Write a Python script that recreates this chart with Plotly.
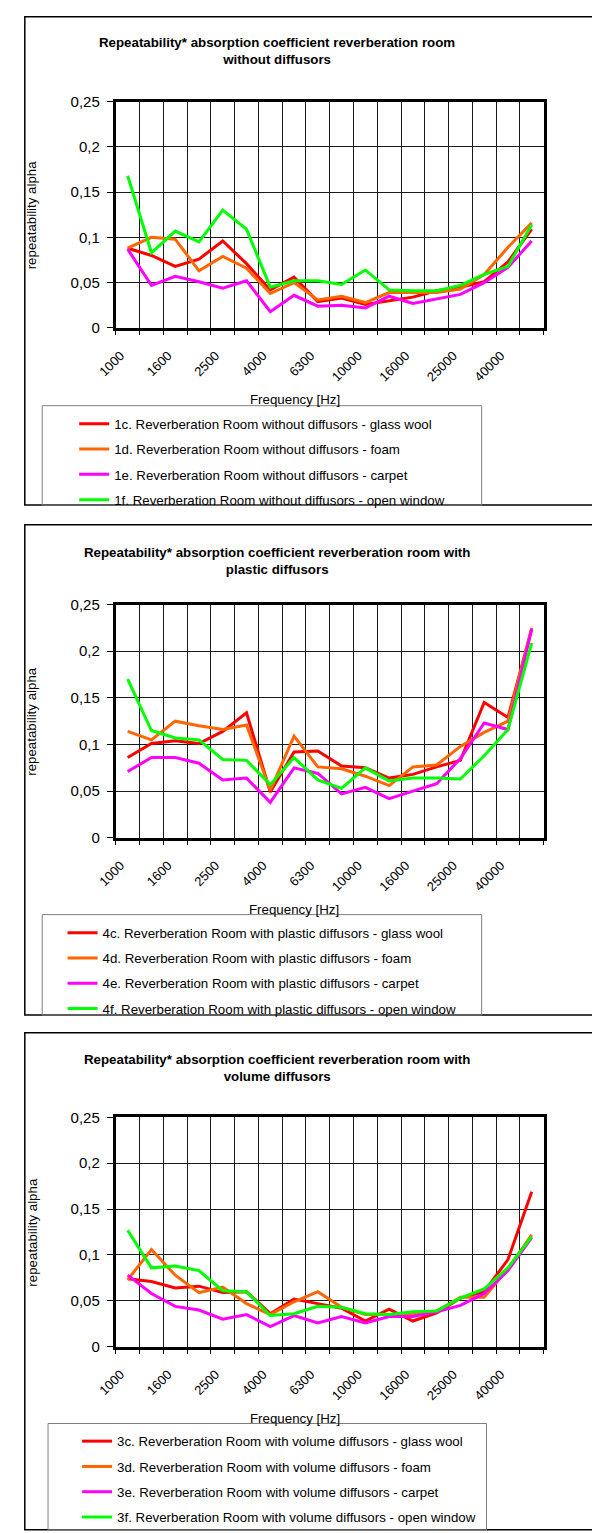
import plotly.graph_objects as go

# ---------------- data ----------------
FREQ = ["1000", "1250", "1600", "2000", "2500", "3150", "4000", "5000", "6300",
        "8000", "10000", "12500", "16000", "20000", "25000", "31500", "40000", "50000"]
LABELED = ["1000", "1600", "2500", "4000", "6300", "10000", "16000", "25000", "40000"]
Y_TICKS = [0, 0.05, 0.1, 0.15, 0.2, 0.25]
Y_TICKTEXT = ["0", "0,05", "0,1", "0,15", "0,2", "0,25"]

TITLES = [
    "Repeatability* absorption coefficient reverberation room|without diffusors",
    "Repeatability* absorption coefficient reverberation room with|plastic diffusors",
    "Repeatability* absorption coefficient reverberation room with|volume diffusors",
]

# Panel 1: without diffusors
P1_NAMES = ["1c. Reverberation Room without diffusors - glass wool",
            "1d. Reverberation Room without diffusors - foam",
            "1e. Reverberation Room without diffusors - carpet",
            "1f. Reverberation Room without diffusors - open window"]
P1_GLASS = [0.088, 0.080, 0.068, 0.076, 0.096, 0.071, 0.042, 0.056, 0.029, 0.033,
            0.026, 0.030, 0.034, 0.041, 0.045, 0.051, 0.073, 0.109]
P1_FOAM = [0.088, 0.100, 0.098, 0.063, 0.079, 0.066, 0.038, 0.050, 0.031, 0.035,
           0.028, 0.039, 0.039, 0.039, 0.043, 0.059, 0.089, 0.116]
P1_CARPET = [0.087, 0.047, 0.057, 0.051, 0.044, 0.052, 0.018, 0.036, 0.024, 0.025,
             0.022, 0.035, 0.027, 0.032, 0.037, 0.050, 0.067, 0.096]
P1_WINDOW = [0.168, 0.083, 0.107, 0.095, 0.130, 0.109, 0.045, 0.052, 0.052, 0.048,
             0.064, 0.042, 0.041, 0.041, 0.047, 0.059, 0.068, 0.114]

# Panel 2: plastic diffusors
P2_NAMES = ["4c. Reverberation Room with plastic diffusors - glass wool",
            "4d. Reverberation Room with plastic diffusors - foam",
            "4e. Reverberation Room with plastic diffusors - carpet",
            "4f. Reverberation Room with plastic diffusors - open window"]
P2_GLASS = [0.086, 0.101, 0.104, 0.101, 0.114, 0.134, 0.049, 0.092, 0.093, 0.077,
            0.075, 0.064, 0.068, 0.076, 0.083, 0.145, 0.129, 0.224]
P2_FOAM = [0.114, 0.105, 0.125, 0.120, 0.116, 0.121, 0.051, 0.109, 0.076, 0.074,
           0.066, 0.056, 0.076, 0.078, 0.098, 0.113, 0.125, 0.225]
P2_CARPET = [0.071, 0.086, 0.086, 0.080, 0.062, 0.064, 0.038, 0.075, 0.069, 0.047,
             0.054, 0.042, 0.050, 0.058, 0.085, 0.123, 0.116, 0.224]
P2_WINDOW = [0.170, 0.115, 0.107, 0.105, 0.084, 0.083, 0.057, 0.086, 0.062, 0.053,
             0.075, 0.061, 0.064, 0.064, 0.063, 0.088, 0.116, 0.209]

# Panel 3: volume diffusors
P3_NAMES = ["3c. Reverberation Room with volume diffusors - glass wool",
            "3d. Reverberation Room with volume diffusors - foam",
            "3e. Reverberation Room with volume diffusors - carpet",
            "3f. Reverberation Room with volume diffusors - open window"]
P3_GLASS = [0.074, 0.071, 0.064, 0.066, 0.059, 0.060, 0.036, 0.052, 0.047, 0.042,
            0.028, 0.041, 0.028, 0.037, 0.053, 0.060, 0.095, 0.169]
P3_FOAM = [0.073, 0.106, 0.078, 0.059, 0.065, 0.047, 0.035, 0.049, 0.060, 0.043,
           0.035, 0.035, 0.035, 0.039, 0.054, 0.054, 0.085, 0.122]
P3_CARPET = [0.078, 0.058, 0.044, 0.040, 0.030, 0.035, 0.022, 0.034, 0.026, 0.033,
             0.026, 0.033, 0.033, 0.038, 0.045, 0.058, 0.083, 0.119]
P3_WINDOW = [0.127, 0.086, 0.088, 0.083, 0.061, 0.060, 0.034, 0.036, 0.044, 0.043,
             0.036, 0.035, 0.038, 0.039, 0.053, 0.063, 0.086, 0.120]

COLORS = ["#FF0000", "#FF6600", "#FF00FF", "#00FF00"]

PANELS = [
    (P1_NAMES, [P1_GLASS, P1_FOAM, P1_CARPET, P1_WINDOW]),
    (P2_NAMES, [P2_GLASS, P2_FOAM, P2_CARPET, P2_WINDOW]),
    (P3_NAMES, [P3_GLASS, P3_FOAM, P3_CARPET, P3_WINDOW]),
]

# ---------------- layout geometry (pixels) ----------------
W, H = 592, 1533
FONT = "Liberation Sans, Arial, sans-serif"
PLOT_X = (100, 542)
PLOT_Y = [(94, 324), (605, 842), (1126, 1359)]
BOX_Y = [(8, 504), (524, 1022), (1040, 1545)]
TITLE_Y = [43, 561, 1076]
TITLE_X = 267
XT_Y = [397, 915, 1432]
XT_X = [285, 284, 285]
LEG_BOX = [(24, 403, 478, 504), (24, 920, 478, 1022), (30, 1437, 483, 1545)]
LEG_TEXT_X = [97, 85, 100]
LEG_TOP = [406, 923, 1440]


def px(x):
    return x / W


def py(y):
    return 1 - y / H


xidx = list(range(len(FREQ)))
lab_pos = [FREQ.index(l) - 0.3 for l in LABELED]

fig = go.Figure()
shapes = []
annotations = []

for p, (names, series) in enumerate(PANELS):
    sfx = "" if p == 0 else str(p + 1)
    leg = "legend" if p == 0 else f"legend{p + 1}"
    for k, (nm, vals) in enumerate(zip(names, series)):
        fig.add_trace(go.Scatter(
            x=xidx, y=vals, mode="lines", name=nm,
            line=dict(color=COLORS[k], width=3),
            xaxis="x" + sfx, yaxis="y" + sfx,
            legend=leg, legendgroup=f"g{p}_{k}",
        ))

    y0, y1 = PLOT_Y[p]
    fig.update_layout(**{
        "xaxis" + sfx: dict(
            domain=[px(PLOT_X[0]), px(PLOT_X[1])],
            anchor="y" + sfx, type="linear", range=[-0.5, len(FREQ) - 0.5],
            tickmode="array", tickvals=lab_pos, ticktext=LABELED,
            tickangle=-45, ticks="", showgrid=False, zeroline=False,
            showline=True, linewidth=3, linecolor="black", mirror=True,
            tickfont=dict(family=FONT, size=13, color="black"),
            ticklabelstandoff=12,
            minor=dict(tickmode="linear", tick0=-0.5, dtick=1, showgrid=True,
                       gridcolor="#1a1a1a", gridwidth=1, ticks="outside",
                       ticklen=4, tickcolor="black", tickwidth=1),
        ),
        "yaxis" + sfx: dict(
            domain=[py(y1), py(y0)], anchor="x" + sfx,
            range=[0, 0.25], tickmode="array", tickvals=Y_TICKS, ticktext=Y_TICKTEXT,
            showgrid=True, gridcolor="#1a1a1a", gridwidth=1, zeroline=False,
            showline=True, linewidth=3, linecolor="black", mirror=True,
            ticks="outside", ticklen=6, tickcolor="black", tickwidth=1,
            ticklabelstandoff=4,
            tickfont=dict(family=FONT, size=15, color="black"),
        ),
        leg: dict(
            x=px(LEG_TEXT_X[p] - 40), y=py(LEG_TOP[p]), xanchor="left", yanchor="top",
            bgcolor="rgba(0,0,0,0)", borderwidth=0, itemwidth=30,
            traceorder="grouped", tracegroupgap=5,
            font=dict(family=FONT, size=13.3, color="black"),
        ),
    })

    # outer chart border
    shapes.append(dict(type="rect", xref="paper", yref="paper",
                       x0=px(6), x1=px(W + 10), y0=py(BOX_Y[p][1]), y1=py(BOX_Y[p][0]),
                       line=dict(color="black", width=1.5), layer="below"))
    # legend border
    lx0, ly0, lx1, ly1 = LEG_BOX[p]
    shapes.append(dict(type="rect", xref="paper", yref="paper",
                       x0=px(lx0), x1=px(lx1), y0=py(ly1), y1=py(ly0),
                       line=dict(color="#7f7f7f", width=1), layer="below"))

    l1, l2 = TITLES[p].split("|")
    annotations.append(dict(
        text=f"<b>{l1}</b><br><b>{l2}</b>", xref="paper", yref="paper",
        x=px(TITLE_X), y=py(TITLE_Y[p]), xanchor="center", yanchor="middle",
        showarrow=False, font=dict(family=FONT, size=13.3, color="black")))
    annotations.append(dict(
        text="Frequency [Hz]", xref="paper", yref="paper",
        x=px(XT_X[p]), y=py(XT_Y[p]), xanchor="center", yanchor="middle",
        showarrow=False, font=dict(family=FONT, size=13.3, color="black")))
    annotations.append(dict(
        text="repeatability alpha", xref="paper", yref="paper",
        x=px(13), y=py((y0 + y1) / 2), xanchor="center", yanchor="middle",
        textangle=-90, showarrow=False,
        font=dict(family=FONT, size=13.3, color="black")))

fig.update_layout(
    width=W, height=H, margin=dict(l=0, r=0, t=0, b=0),
    paper_bgcolor="white", plot_bgcolor="white",
    showlegend=True, shapes=shapes, annotations=annotations,
    font=dict(family=FONT, color="black"),
)

fig.write_html(
    "out.html",
    config={"displayModeBar": False},
    post_script="document.body.style.margin='0';document.body.style.overflow='hidden';",
)
